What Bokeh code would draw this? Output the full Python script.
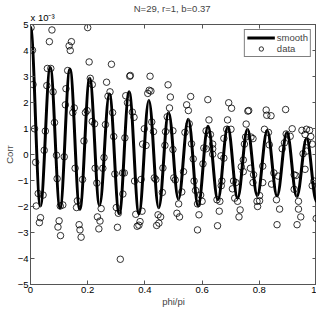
from bokeh.plotting import figure
from bokeh.models import Range1d, LinearAxis, FixedTicker, Label, Title
from bokeh.embed import file_html
from bokeh.resources import INLINE

# ---- data (Corr values in units of 1e-3) ----
x_ticks = [0, 0.2, 0.4, 0.6, 0.8, 1.0]
y_ticks = [-5, -4, -3, -2, -1, 0, 1, 2, 3, 4, 5]

# extrema of the smooth curve (peaks / troughs), x in phi/pi
smooth_x = [0.0, 0.0345, 0.069, 0.1034, 0.1379, 0.1724, 0.2069, 0.2414, 0.2759, 0.3103,
            0.3448, 0.3793, 0.4138, 0.4483, 0.4828, 0.5172, 0.5517, 0.5862, 0.6207, 0.6552,
            0.6897, 0.7241, 0.7586, 0.7931, 0.8276, 0.8621, 0.8966, 0.931, 0.9655, 1.0]
smooth_y = [4.9, -1.98, 3.35, -2.06, 3.29, -2.11, 2.93, -1.95, 2.33, -2.28,
            2.41, -2.28, 2.08, -2.05, 1.62, -1.72, 1.36, -1.98, 1.09, -1.74,
            1.06, -1.68, 0.97, -1.58, 0.91, -1.59, 0.85, -1.62, 0.62, -1.8]

data_x = [0.002, 0.007, 0.009, 0.014, 0.018, 0.020, 0.027, 0.031, 0.035, 0.044,
          0.048, 0.052, 0.057, 0.059, 0.066, 0.071, 0.075, 0.079, 0.084, 0.091,
          0.093, 0.096, 0.100, 0.104, 0.105, 0.113, 0.118, 0.122, 0.124, 0.130,
          0.135, 0.139, 0.143, 0.148, 0.153, 0.156, 0.161, 0.164, 0.170, 0.173,
          0.177, 0.182, 0.187, 0.192, 0.198, 0.200, 0.205, 0.209, 0.216, 0.216,
          0.224, 0.226, 0.232, 0.234, 0.239, 0.243, 0.247, 0.253, 0.257, 0.262,
          0.266, 0.271, 0.278, 0.283, 0.287, 0.291, 0.295, 0.300, 0.304, 0.307,
          0.314, 0.322, 0.328, 0.323, 0.330, 0.333, 0.339, 0.347, 0.349, 0.356,
          0.362, 0.364, 0.368, 0.373, 0.379, 0.383, 0.387, 0.390, 0.392, 0.398,
          0.404, 0.410, 0.415, 0.418, 0.421, 0.424, 0.430, 0.433, 0.438, 0.441,
          0.446, 0.449, 0.455, 0.461, 0.463, 0.470, 0.472, 0.478, 0.481, 0.486,
          0.489, 0.498, 0.498, 0.501, 0.506, 0.512, 0.518, 0.521, 0.529, 0.535,
          0.540, 0.546, 0.552, 0.555, 0.560, 0.563, 0.569, 0.572, 0.577, 0.584,
          0.584, 0.589, 0.595, 0.600, 0.603, 0.606, 0.614, 0.614, 0.620, 0.624,
          0.629, 0.637, 0.637, 0.637, 0.652, 0.654, 0.660, 0.662, 0.666, 0.667,
          0.669, 0.676, 0.676, 0.686, 0.689, 0.693, 0.701, 0.703, 0.706, 0.710,
          0.714, 0.718, 0.724, 0.729, 0.733, 0.737, 0.744, 0.744, 0.748, 0.752,
          0.754, 0.760, 0.763, 0.769, 0.771, 0.778, 0.778, 0.780, 0.792, 0.794,
          0.801, 0.801, 0.812, 0.812, 0.818, 0.824, 0.826, 0.832, 0.835, 0.841,
          0.843, 0.851, 0.860, 0.862, 0.866, 0.871, 0.880, 0.888, 0.892, 0.894,
          0.908, 0.915, 0.922, 0.922, 0.928, 0.932, 0.937, 0.937, 0.945, 0.949,
          0.953, 0.960, 0.960, 0.965, 0.965, 0.968, 0.976, 0.980, 0.985, 0.985,
          0.991, 0.999]
data_y = [4.88, 4.01, 2.69, 0.99, -0.30, -1.98, -1.50, -2.62, -2.43, -1.56,
          0.16, 0.90, 2.65, 3.31, 4.34, 3.31, 4.79, 2.41, 1.23, -0.03,
          -0.93, -2.79, -2.55, -1.98, -3.12, -1.94, -0.09, 1.91, 2.53, 3.23,
          4.18, 4.00, 4.34, 1.61, 1.79, -0.53, -2.04, -1.78, -2.70, -2.90,
          -3.18, -0.96, 0.52, 1.61, 1.69, 4.88, 3.56, 2.93, 2.69, 1.27,
          1.18, -0.53, -1.10, -2.40, -2.86, -2.56, -2.08, -0.53, -0.12, 1.15,
          2.78, 2.24, 2.41, 3.47, 1.61, 0.69, -0.75, -2.04, -2.80, -2.26,
          -4.03, -0.71, -0.71, -1.52, 0.64, 2.26, 1.99, 3.01, 3.04, 1.63,
          1.43, -1.02, -2.30, -2.76, -2.72, -2.58, -0.96, -2.18, 0.40, 0.99,
          0.35, 2.35, 2.47, 3.01, 2.44, 1.25, 0.88, -0.90, -0.96, -2.73,
          -2.32, -2.64, -2.40, -1.46, -0.52, 0.35, 0.88, 1.45, 2.68, 1.79,
          2.21, 0.91, 0.19, -0.90, -0.98, -2.26, -1.90, -2.40, -1.44, -0.66,
          0.85, 1.91, 1.69, 1.18, 2.23, 0.41, -0.17, -1.02, -1.38, -1.90,
          -2.90, -2.32, -1.56, -1.80, -0.36, 0.25, 0.22, 0.91, 2.11, 1.33,
          0.77, 0.40, 0.22, 0.01, -1.74, -2.74, -2.18, -1.80, -0.05, -1.20,
          -1.02, -0.14, 0.62, 0.97, 1.33, 1.99, 0.97, 1.78, -1.32, -1.02,
          -1.68, -1.08, -1.80, -2.40, -2.13, -0.47, -0.21, -0.66, 0.40, 0.67,
          1.17, 1.67, 1.69, -0.53, 0.67, 0.61, -1.08, -0.78, -1.80, -2.00,
          -1.58, -1.78, -0.45, -1.08, 0.97, 1.71, 1.51, 0.85, 0.37, 1.49,
          -1.14, -0.71, -1.74, -2.70, -0.83, -2.10, 0.22, 0.45, 1.73, 0.79,
          0.70, 0.99, -0.78, -1.34, -0.81, -2.70, -1.80, -2.10, -2.40, 0.93,
          0.03, 0.77, -0.57, 0.97, 0.13, 0.49, 0.93, 0.69, 0.40, -1.20,
          -1.02, -2.46]

FONT = "Liberation Sans"
AX = "#555555"

p = figure(width=316, height=309, x_range=Range1d(0, 1), y_range=Range1d(-5, 5),
           output_backend="svg", toolbar_location=None,
           min_border_left=4, min_border_right=0, min_border_top=0, min_border_bottom=2)
p.outline_line_color = AX
p.grid.visible = False
p.background_fill_color = "white"

p.title = Title(text="N=29, r=1,  b=0.37", align="center", text_font=FONT,
                text_font_size="9.5px", text_font_style="normal", standoff=0)


def style_axis(ax):
    ax.axis_line_color = AX
    ax.major_tick_line_color = AX
    ax.major_tick_in = 4
    ax.major_tick_out = 0
    ax.minor_tick_line_color = None
    ax.major_label_text_font = FONT
    ax.major_label_text_font_size = "9.5px"
    ax.major_label_text_color = "black"
    ax.major_label_standoff = 2
    ax.axis_label_text_font = FONT
    ax.axis_label_text_font_size = "9.5px"
    ax.axis_label_text_font_style = "normal"
    ax.axis_label_standoff = 0


p.xaxis.ticker = FixedTicker(ticks=x_ticks)
p.yaxis.ticker = FixedTicker(ticks=y_ticks)
p.xaxis.axis_label = "phi/pi"
p.yaxis.axis_label = "Corr"
style_axis(p.xaxis[0])
style_axis(p.yaxis[0])

# tick marks on top and right edges (box style), no visible labels
top = LinearAxis(ticker=FixedTicker(ticks=x_ticks))
style_axis(top)
top.major_label_text_font_size = "1px"
top.major_label_text_alpha = 0
top.major_label_standoff = 0
p.add_layout(top, "above")
right = LinearAxis(ticker=FixedTicker(ticks=y_ticks))
style_axis(right)
right.major_label_text_font_size = "1px"
right.major_label_text_alpha = 0
right.major_label_standoff = 0
p.add_layout(right, "right")

# axis multiplier, above the frame's top-left corner
p.add_layout(Label(x=0, y=5, text="x 10\u207b\u00b3", text_align="left",
                   text_baseline="bottom", y_offset=2, text_font=FONT,
                   text_font_size="9.5px", text_color="black"), "above")

# smooth curve: cubic bezier segments between consecutive extrema (horizontal tangents)
x0 = smooth_x[:-1]
x1 = smooth_x[1:]
y0 = smooth_y[:-1]
y1 = smooth_y[1:]
k = 0.364
cx0 = [a + k * (b - a) for a, b in zip(x0, x1)]
cx1 = [b - k * (b - a) for a, b in zip(x0, x1)]
p.bezier(x0=x0, y0=y0, x1=x1, y1=y1, cx0=cx0, cy0=y0, cx1=cx1, cy1=y1,
         line_color="black", line_width=3, legend_label="smooth")

p.scatter(data_x, data_y, marker="circle", size=6.5, fill_color=None,
          line_color="black", line_width=0.8, legend_label="data")

leg = p.legend[0]
leg.location = "top_right"
leg.margin = 5
leg.padding = 2
leg.spacing = 0
leg.glyph_width = 28
leg.glyph_height = 11
leg.label_height = 11
leg.label_standoff = 2
leg.label_text_font = FONT
leg.label_text_font_size = "9.5px"
leg.border_line_color = "black"
leg.border_line_width = 1
leg.background_fill_color = "white"
leg.background_fill_alpha = 1

open("out.html", "w").write(file_html(p, INLINE))
